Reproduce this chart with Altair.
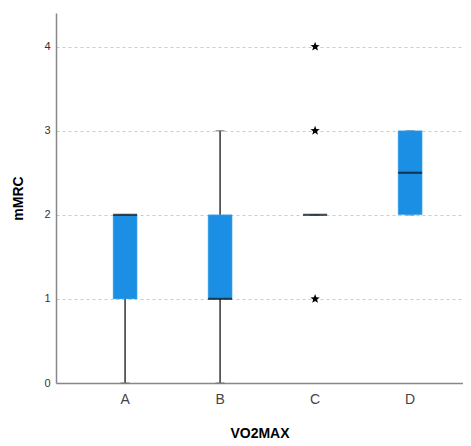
import math
import altair as alt
import pandas as pd

categories = ["A", "B", "C", "D"]
q1 = [1, 1, 2, 2]
median = [2, 1, 2, 2.5]
q3 = [2, 2, 2, 3]
whisker_low = [0, 0, 2, 2]
whisker_high = [2, 3, 2, 3]

outlier_cat = ["C", "C", "C"]
outlier_val = [1, 3, 4]

box = pd.DataFrame({"cat": categories, "q1": q1, "median": median, "q3": q3,
                    "lo": whisker_low, "hi": whisker_high})
out = pd.DataFrame({"cat": outlier_cat, "val": outlier_val})

# five-pointed star symbol path (unit size)
pts = []
for i in range(10):
    r = 1.0 if i % 2 == 0 else 0.42
    a = -math.pi / 2 + i * math.pi / 5
    pts.append(f"{r * math.cos(a):.3f},{r * math.sin(a):.3f}")
star_path = "M" + "L".join(pts) + "Z"

xaxis = alt.Axis(orient="bottom", labelAngle=0, ticks=False, grid=False, labelFontSize=14,
                 labelColor="#444444", labelPadding=9, titleFontSize=14,
                 titleFontWeight="bold", titlePadding=20, titleColor="#000000",
                 domainColor="#888888", domainWidth=1.5)
xscale = alt.Scale(domain=categories, paddingInner=0, paddingOuter=0.142, align=0.8)
yscale = alt.Scale(domain=[0, 4.4], nice=False, zero=True)
yaxis = alt.Axis(orient="left", values=[0, 1, 2, 3, 4], format="d", grid=True, gridDash=[3, 3],
                 gridColor="#cccccc", ticks=False, labelFontSize=11, labelColor="#333333",
                 labelPadding=6, domainColor="#888888", domainWidth=1.5, titleFontSize=14,
                 titleFontWeight="bold", titleColor="#000000", titlePadding=18)


def X():
    return alt.X("cat:N", title="VO2MAX", scale=xscale, axis=xaxis)


def Y(field):
    return alt.Y(field, title="mMRC", scale=yscale, axis=yaxis)


base = alt.Chart(box)

whisk = base.mark_rule(color="#333333", strokeWidth=1.5).encode(
    x=X(), y=Y("lo:Q"), y2="hi:Q")
cap_lo = base.mark_tick(color="#777777", size=9, thickness=1.5).encode(
    x=X(), y=Y("lo:Q"))
cap_hi = base.mark_tick(color="#777777", size=9, thickness=1.5).encode(
    x=X(), y=Y("hi:Q"))
bars = base.mark_bar(size=24, color="#1A8FE3", stroke="#5ab0f0", strokeWidth=0.5).encode(
    x=X(), y=Y("q1:Q"), y2="q3:Q")
med = base.mark_tick(size=24, thickness=2.2, color="#111111").encode(
    x=X(), y=Y("median:Q"))
outs = alt.Chart(out).mark_point(shape=star_path, filled=True, color="#000000",
                                 size=95, opacity=1, strokeWidth=0).encode(
    x=X(), y=Y("val:Q"))

chart = alt.layer(whisk, cap_lo, cap_hi, bars, med, outs).properties(
    width=407, height=370, autosize="none",
    padding={"left": 48, "top": 5, "right": 0, "bottom": 62}
).configure_view(stroke=None).configure_axis(labelFont="Liberation Sans", titleFont="Liberation Sans")

chart.save("out.html", embed_options={"renderer": "svg", "actions": False})
